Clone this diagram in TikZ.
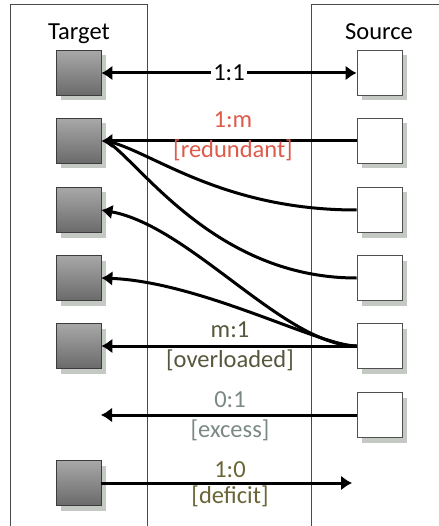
\documentclass[tikz,border=0pt]{standalone}
\usepackage{fontspec}
\setmainfont{Carlito}
\usetikzlibrary{arrows.meta,shadows}
\definecolor{panelc}{HTML}{4A4A4A}
\definecolor{shadowc}{HTML}{C4C9C4}
\definecolor{tgtTop}{HTML}{A8A8A8}
\definecolor{tgtBot}{HTML}{6A6A6A}
\definecolor{tgtEdge}{HTML}{3C3C3C}
\definecolor{srcEdge}{HTML}{505050}
\definecolor{redc}{HTML}{DE5A4A}
\definecolor{overc}{HTML}{57573E}
\definecolor{excc}{HTML}{7B8985}
\definecolor{defc}{HTML}{6A6437}
\tikzset{
  box/.style={minimum size=45pt, inner sep=0pt, line width=0.8pt,
    general shadow={fill=shadowc, shadow xshift=5pt, shadow yshift=-5pt}},
  tgt/.style={box, draw=tgtEdge, top color=tgtTop, bottom color=tgtBot},
  src/.style={box, draw=srcEdge, fill=white},
  panel/.style={draw=panelc, line width=0.7pt},
  conn/.style={line width=3pt, >={Latex[length=11pt,width=15pt]}},
  lbl/.style={font=\fontsize{24.5}{28}\selectfont, inner sep=0pt, anchor=base},
  title/.style={lbl}
}
\begin{document}
\begin{tikzpicture}[x=1pt,y=-1pt]
\useasboundingbox (0,0) rectangle (438,526);
\fill[white] (0,0) rectangle (438,526);
% panels
\draw[panel] (10,530) -- (10,4) -- (147,4) -- (147,530);
\draw[panel] (311,530) -- (311,4) -- (445,4);
% titles
\node[title] (ttl) at (79,40) {Target};
\node[title] (stl) at (379,40) {Source};
% boxes
\node[tgt] (t1) at (78.5,73) {};
\node[tgt] (t2) at (78.5,141) {};
\node[tgt] (t3) at (78.5,210) {};
\node[tgt] (t4) at (78.5,278) {};
\node[tgt] (t5) at (78.5,346) {};
\node[tgt] (t7) at (78.5,483) {};
\node[src] (s1) at (379.5,73) {};
\node[src] (s2) at (379.5,141) {};
\node[src] (s3) at (379.5,210) {};
\node[src] (s4) at (379.5,278) {};
\node[src] (s5) at (379.5,346) {};
\node[src] (s6) at (379.5,415) {};
\coordinate (t2in) at ([xshift=5pt]t2.east);
\coordinate (x6) at (101,415);
\coordinate (x7) at (352,483);
% curves (no heads at t2)
\draw[conn] (t2in) .. controls (150,150) and (220,210) .. (s3.west);
\draw[conn] (t2in) .. controls (140,162) and (215,278) .. (s4.west);
\draw[conn,<-] (t3.east) .. controls (190,226) and (285,346) .. (s5.west);
\draw[conn,<-] (t4.east) .. controls (201,282) and (320,346) .. (s5.west);
% straight connectors
\draw[conn,<->] (t1.east) -- (s1.west);
\draw[conn,<-] (t2.east) -- (s2.west);
\draw[conn,<-] (t5.east) -- (s5.west);
\draw[conn,<-] (x6) -- (s6.west);
\draw[conn,->] (t7.east) -- (x7);
% labels
\node[lbl, fill=white, inner xsep=2pt] (l11) at (229,81) {1:1};
\node[lbl, text=redc] (l1m) at (233,128) {1:m};
\node[lbl, text=redc] (l1mb) at (233,158) {[redundant]};
\node[lbl, text=overc] (lm1) at (230,337) {m:1};
\node[lbl, text=overc] (lm1b) at (230,367) {[overloaded]};
\node[lbl, text=excc] (l01) at (230,407) {0:1};
\node[lbl, text=excc] (l01b) at (230,437) {[excess]};
\node[lbl, text=defc] (l10) at (230,477) {1:0};
\node[lbl, text=defc] (l10b) at (230,503) {[deficit]};
\end{tikzpicture}
\end{document}
